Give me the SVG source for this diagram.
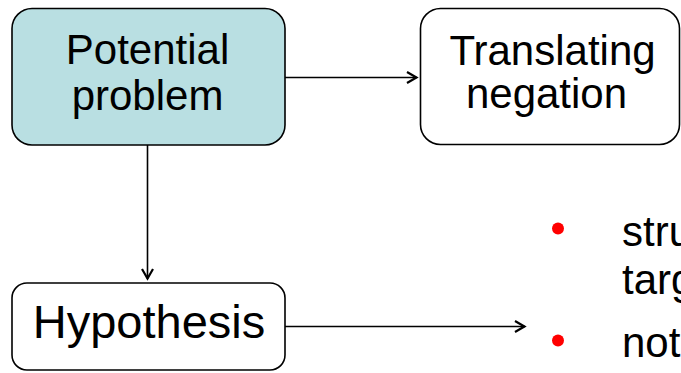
<svg xmlns="http://www.w3.org/2000/svg" width="681" height="373" viewBox="0 0 681 373">
  <defs>
    <marker id="arrow" viewBox="0 0 14 14" refX="12.5" refY="7" markerWidth="14" markerHeight="14" markerUnits="userSpaceOnUse" orient="auto">
      <path d="M2.5,1.5 L12,7 L2.5,12.5" fill="none" stroke="#000" stroke-width="2.2"/>
    </marker>
  </defs>
  <style>
    .box { fill: #fff; stroke: #000; stroke-width: 1.6; }
    .hl { fill: #b9dfe2; }
    .lbl { font-family: "Liberation Sans", Arial, sans-serif; font-size: 42px; fill: #000; text-anchor: middle; }
    .body { font-family: "Liberation Sans", Arial, sans-serif; font-size: 42px; fill: #000; }
    .conn { stroke: #000; stroke-width: 1.6; fill: none; marker-end: url(#arrow); }
    .dot { fill: #ff0000; }
  </style>
  <rect width="681" height="373" fill="#fff"/>

  <g id="connectors">
    <line class="conn" x1="285" y1="77.5" x2="417" y2="77.5"/>
    <line class="conn" x1="147.5" y1="145" x2="147.5" y2="279"/>
    <line class="conn" x1="285" y1="326.5" x2="525" y2="326.5"/>
  </g>

  <g id="potential-problem">
    <rect class="box hl" x="12" y="8.5" width="273" height="136.5" rx="20"/>
    <text class="lbl" x="147.5" y="64">Potential</text>
    <text class="lbl" x="147.5" y="110">problem</text>
  </g>

  <g id="translating-negation">
    <rect class="box" x="420.5" y="8.5" width="259" height="136" rx="20"/>
    <text class="lbl" x="552.5" y="65">Translating</text>
    <text class="lbl" x="546.5" y="108">negation</text>
  </g>

  <g id="hypothesis">
    <rect class="box" x="12" y="283" width="273" height="87" rx="15"/>
    <text class="lbl" x="149" y="338" style="font-size:47px">Hypothesis</text>
  </g>

  <g id="bullets">
    <circle class="dot" cx="558" cy="228.5" r="6"/>
    <circle class="dot" cx="558" cy="340.5" r="6"/>
    <text class="body" x="622" y="246">stru</text>
    <text class="body" x="622" y="294">targ</text>
    <text class="body" x="622" y="357">not</text>
  </g>
</svg>
